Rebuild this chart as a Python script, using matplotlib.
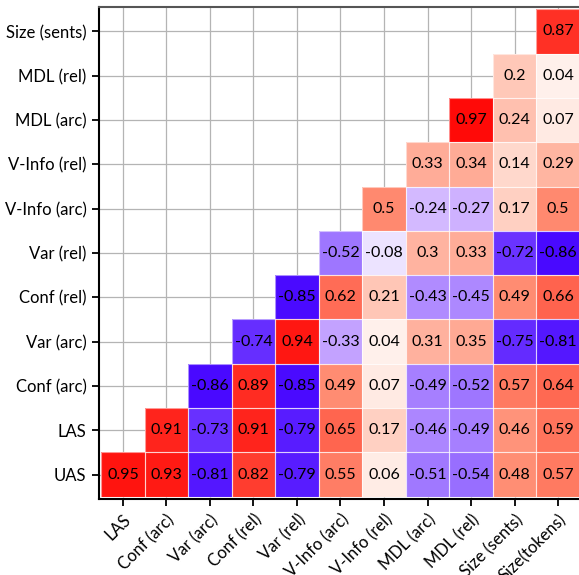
import numpy as np
import matplotlib
matplotlib.use("Agg")
import matplotlib.pyplot as plt
from matplotlib.colors import LinearSegmentedColormap, Normalize
from matplotlib.patches import Rectangle

plt.rcParams['font.family'] = ['Lato', 'DejaVu Sans']

col_labels = ["LAS", "Conf (arc)", "Var (arc)", "Conf (rel)", "Var (rel)", "V-Info (arc)",
              "V-Info (rel)", "MDL (arc)", "MDL (rel)", "Size (sents)", "Size(tokens)"]
# rows listed bottom to top
row_labels = ["UAS", "LAS", "Conf (arc)", "Var (arc)", "Conf (rel)", "Var (rel)",
              "V-Info (arc)", "V-Info (rel)", "MDL (arc)", "MDL (rel)", "Size (sents)"]

row_uas = [0.95, 0.93, -0.81, 0.82, -0.79, 0.55, 0.06, -0.51, -0.54, 0.48, 0.57]
row_las = [0.91, -0.73, 0.91, -0.79, 0.65, 0.17, -0.46, -0.49, 0.46, 0.59]
row_conf_arc = [-0.86, 0.89, -0.85, 0.49, 0.07, -0.49, -0.52, 0.57, 0.64]
row_var_arc = [-0.74, 0.94, -0.33, 0.04, 0.31, 0.35, -0.75, -0.81]
row_conf_rel = [-0.85, 0.62, 0.21, -0.43, -0.45, 0.49, 0.66]
row_var_rel = [-0.52, -0.08, 0.3, 0.33, -0.72, -0.86]
row_vinfo_arc = [0.5, -0.24, -0.27, 0.17, 0.5]
row_vinfo_rel = [0.33, 0.34, 0.14, 0.29]
row_mdl_arc = [0.97, 0.24, 0.07]
row_mdl_rel = [0.2, 0.04]
row_size_sents = [0.87]

rows = [row_uas, row_las, row_conf_arc, row_var_arc, row_conf_rel, row_var_rel,
        row_vinfo_arc, row_vinfo_rel, row_mdl_arc, row_mdl_rel, row_size_sents]

n = len(col_labels)
M = np.full((n, n), np.nan)
for i, r in enumerate(rows):
    for k, v in enumerate(r):
        M[i, i + k] = v
Mm = np.ma.masked_invalid(M)

anchors = [(-1.0, "#4000ff"), (-0.85, "#4a0aff"), (-0.5, "#a47dff"), (-0.3, "#c9a9ff"),
           (-0.08, "#ece4ff"), (0.0, "#ffffff"), (0.05, "#ffeee8"), (0.2, "#ffc8b8"),
           (0.5, "#ff8a70"), (0.65, "#ff6650"), (0.9, "#ff2a20"), (1.0, "#ff0000")]
cmap = LinearSegmentedColormap.from_list("custom", [((v + 1) / 2, c) for v, c in anchors])
norm = Normalize(-1, 1)

fig = plt.figure(figsize=(5.79, 5.75), dpi=100)
W, H = 579, 575
ax = fig.add_axes([99 / W, (H - 499) / H, 483 / W, 492 / H])

ax.set_axisbelow(True)
ax.grid(True, color="#b4b4b4", linewidth=0.9, zorder=0)

edges = np.arange(n + 1) - 0.5
ax.pcolormesh(edges, edges, Mm, cmap=cmap, norm=norm, linewidth=0, zorder=2)

for i in range(n):
    for j in range(n):
        if not np.isnan(M[i, j]):
            v = M[i, j]
            ax.add_patch(Rectangle((j - 0.5, i - 0.5), 1, 1, fill=False,
                                   edgecolor=(1, 1, 1, 0.55), linewidth=0.8, zorder=2.5))
            ax.text(j, i, f"{v:g}", ha="center", va="center", fontsize=11.5,
                    color="black", zorder=3)

ax.set_xlim(-0.55, n - 0.45)
ax.set_ylim(-0.55, n - 0.45)
ax.set_xticks(np.arange(n))
ax.set_yticks(np.arange(n))
ax.set_xticklabels(col_labels, rotation=45, ha="right", rotation_mode="anchor", fontsize=12)
ax.set_yticklabels(row_labels, fontsize=12)
ax.tick_params(axis="both", direction="out", length=5, width=1.3, color="black", pad=4)

for side in ["left", "bottom"]:
    ax.spines[side].set_color("black")
    ax.spines[side].set_linewidth(1.5)
ax.spines["top"].set_color("#555555")
ax.spines["top"].set_linewidth(1.5)
ax.spines["right"].set_visible(False)

fig.savefig("out.png", dpi=100)
